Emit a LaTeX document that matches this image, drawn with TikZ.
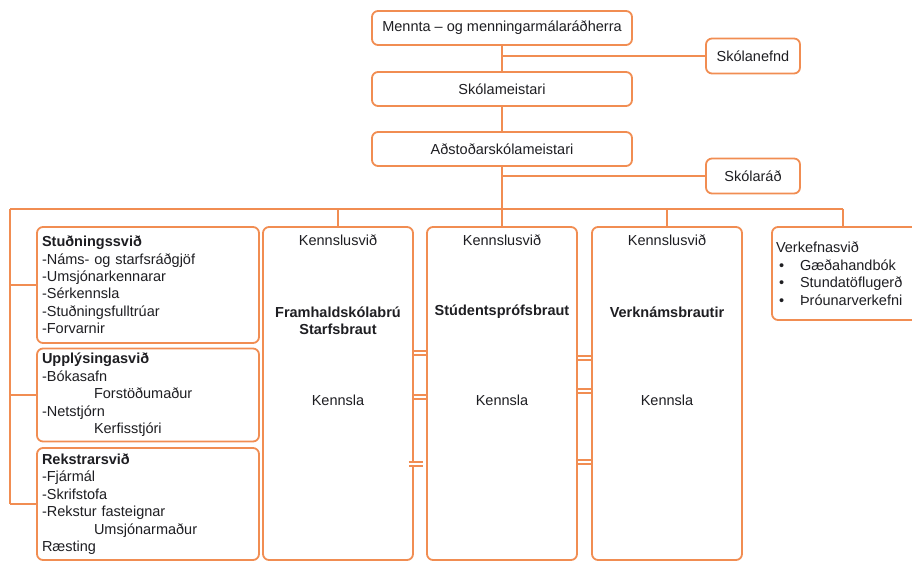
\documentclass[tikz,border=0pt]{standalone}
\usepackage{fontspec}
\setmainfont{Liberation Sans}
\usepackage{tikz}
\usetikzlibrary{positioning}
\definecolor{orgline}{RGB}{241,141,82}
\definecolor{txt}{RGB}{30,30,34}
\newcommand\orgfont{\fontsize{14.5}{17.5}\selectfont}

\begin{document}
\begin{tikzpicture}[x=1pt,y=-1pt,line width=1.8pt,font=\orgfont,text=txt,
  box/.style={draw=orgline,rounded corners=6pt,fill=white,inner sep=0pt},
  head/.style={box,minimum width=260pt,minimum height=34pt},
  side/.style={box,minimum width=94pt,minimum height=35pt},
  unit/.style={box,minimum width=222pt,text width=212pt,align=left},
  col/.style={box,minimum width=150pt,minimum height=333pt},
  title/.style={font=\orgfont\bfseries,align=center},
  link/.style={draw=orgline,line width=1.7pt,double=white,double distance=1.8pt},
  every edge/.style={draw=orgline,line width=2pt}]
\useasboundingbox (0,0) rectangle (912,561);

% stjorn
\node[head] (ment) at (502,28) {Mennta -- og menningarmálaráðherra};
\node[head] (skm) [below=25.2pt of ment] {Skólameistari};
\node[head] (adst) [below=24.2pt of skm] {Aðstoðarskólameistari};
\node[side] (nefnd) at (753,56) {Skólanefnd};
\node[side] (rad) at (753,176) {Skólaráð};

% svid til vinstri
\node[unit,minimum height=116pt] (studning) at (148,285)
  {\textbf{Stuðningssvið}\\-Náms- og starfsráðgjöf\\-Umsjónarkennarar\\-Sérkennsla\\-Stuðningsfulltrúar\\-Forvarnir};
\node[unit,minimum height=93pt] (upplys) at (148,395)
  {\textbf{Upplýsingasvið}\\-Bókasafn\\\hspace*{52pt}Forstöðumaður\\-Netstjórn\\\hspace*{52pt}Kerfisstjóri};
\node[unit,minimum height=112pt] (rekstur) at (148,504)
  {\textbf{Rekstrarsvið}\\-Fjármál\\-Skrifstofa\\-Rekstur fasteignar\\\hspace*{52pt}Umsjónarmaður\\Ræsting};

% kennslusvid
\node[col] (framh) at (338,393.5) {};
\node[col] (studpr) [right=12.2pt of framh] {};
\node[col] (verkn) [right=13.2pt of studpr] {};
\node (framhK) at (framh.north |- 0,240) {Kennslusvið};
\node (studprK) at (studpr.north |- 0,240) {Kennslusvið};
\node (verknK) at (verkn.north |- 0,240) {Kennslusvið};
\node[title] (framhT) at (framh.north |- 0,321) {Framhaldskólabrú\\Starfsbraut};
\node[title] (studprT) at (studpr.north |- 0,312) {Stúdentsprófsbraut};
\node[title] (verknT) at (verkn.north |- 0,312) {Verknámsbrautir};
\node (framhN) at (framh.north |- 0,400) {Kennsla};
\node (studprN) at (studpr.north |- 0,400) {Kennsla};
\node (verknN) at (verkn.north |- 0,400) {Kennsla};

\node[box,minimum width=148pt,minimum height=93pt,text width=140pt,align=left] (verkef) at (846,273.5)
  {Verkefnasvið\\\hspace*{3pt}\makebox[21pt][l]{•}Gæðahandbók\\\hspace*{3pt}\makebox[21pt][l]{•}Stundatöflugerð\\\hspace*{3pt}\makebox[21pt][l]{•}Þróunarverkefni};

\coordinate (busL) at (10,209);
\coordinate (busR) at (843,209);
\path
(ment) edge (skm)
(ment.south |- nefnd.west) edge (nefnd.west)
(skm) edge (adst)
(adst.south) edge (adst.south |- busL)
(adst.south |- rad.west) edge (rad.west)
(busL) edge (busR)
    edge (busL |- rekstur.west)
(busL |- studning.west) edge (studning.west)
(busL |- upplys.west) edge (upplys.west)
(busL |- rekstur.west) edge (rekstur.west)
(framh.north |- busL) edge (framh.north)
(studpr.north |- busL) edge (studpr.north)
(verkn.north |- busL) edge (verkn.north)
(busR) edge (busR |- verkef.north);

% tengingar milli brauta
\draw[link] (framh.east |- 0,353) -- (studpr.west |- 0,353);
\draw[link] (framh.east |- 0,397) -- (studpr.west |- 0,397);
\draw[link] ([xshift=-5pt]framh.east |- 0,464) -- ([xshift=-3pt]studpr.west |- 0,464);
\draw[link] (studpr.east |- 0,358) -- (verkn.west |- 0,358);
\draw[link] (studpr.east |- 0,391) -- (verkn.west |- 0,391);
\draw[link] (studpr.east |- 0,462) -- (verkn.west |- 0,462);
\end{tikzpicture}
\end{document}
